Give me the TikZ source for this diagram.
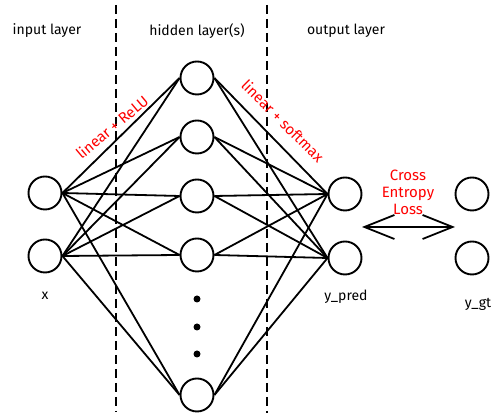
\documentclass[tikz,border=0pt]{standalone}
\usepackage{fontspec}
\setmainfont{Fira Sans}
\usepackage{xcolor}
\usetikzlibrary{arrows.meta}

\begin{document}
\begin{tikzpicture}
          [x=1pt,y=1pt,
          font=\fontsize{14}{16}\selectfont,
          neuron/.style={shape=circle,draw=black,fill=white,minimum size=33pt,inner sep=0pt,line width=1.9pt},
          edge/.style={line width=1.8pt},
          divider/.style={line width=2.4pt,dash pattern=on 9pt off 5pt},
          redtext/.style={text=red,font=\fontsize{15}{17}\selectfont},
          dot/.style={shape=circle,fill=black,minimum size=7pt,inner sep=0pt},
          loss/.style={{Straight Barb[length=30pt,width=24pt,line width=1.8pt]}-{Straight Barb[length=30pt,width=24pt,line width=1.8pt]},line width=1.8pt}]

            \fill [white] (0,0) rectangle (501,419);
            \useasboundingbox (0,0) rectangle (501,419);

            % dividers between layers
            \draw [divider] (116,414) -- (116,7);
            \draw [divider] (267,414) -- (267,6);

            % layer titles
            \node (tin) at (47,388) {input layer};
            \node (thid) at (197,388) {hidden layer(s)};
            \node (tout) at (346,388) {output layer};

            % neurons
            \node (i1) [neuron] at (45,226) {};
            \node (i2) [neuron] at (45,163) {};
            \node (h1) [neuron] at (197,341) {};
            \node (h2) [neuron] at (197,282) {};
            \node (h3) [neuron] at (197,223) {};
            \node (h4) [neuron] at (197,164) {};
            \node (h5) [neuron] at (197,24) {};
            \node (o1) [neuron] at (345,225) {};
            \node (o2) [neuron] at (345,161) {};
            \node (g1) [neuron] at (472,225) {};
            \node (g2) [neuron] at (472,161) {};

            \node (d1) [dot] at (197,120) {};
            \node (d2) [dot] at (197,92) {};
            \node (d3) [dot] at (197,65) {};

            % input to hidden
            \draw [edge] (i1.east) -- (h1.west);
            \draw [edge] (i1.east) -- (h2.west);
            \draw [edge] (i1.east) -- (h3.west);
            \draw [edge] (i1.east) -- (h4.west);
            \draw [edge] (i1.east) -- (h5.west);
            \draw [edge] (i2.east) -- (h1.west);
            \draw [edge] (i2.east) -- (h2.west);
            \draw [edge] (i2.east) -- (h3.west);
            \draw [edge] (i2.east) -- (h4.west);
            \draw [edge] (i2.east) -- (h5.west);

            % hidden to output
            \draw [edge] (h1.east) -- (o1.west);
            \draw [edge] (h2.east) -- (o1.west);
            \draw [edge] (h3.east) -- (o1.west);
            \draw [edge] (h4.east) -- (o1.west);
            \draw [edge] (h5.east) -- (o1.west);
            \draw [edge] (h1.east) -- (o2.west);
            \draw [edge] (h2.east) -- (o2.west);
            \draw [edge] (h3.east) -- (o2.west);
            \draw [edge] (h4.east) -- (o2.west);
            \draw [edge] (h5.east) -- (o2.west);

            % activations
            \node (relu) [redtext,rotate=40] at (112,292) {linear + ReLU};
            \node (soft) [redtext,rotate=-45] at (283,298) {linear + softmax};

            % loss
            \node (ce) [redtext,align=center,inner sep=0pt] at (408,227) {Cross\\[0pt]Entropy\\[0pt]Loss};
            \coordinate (la) at (362,192);
            \coordinate (lb) at (455,192);
            \draw [loss] (la) -- (lb);

            % value labels
            \node (lx) at (45,123) {x};
            \node (lpred) at (346,122) {y\_pred};
            \node (lgt) at (478,115) {y\_gt};

        \end{tikzpicture}
\end{document}
